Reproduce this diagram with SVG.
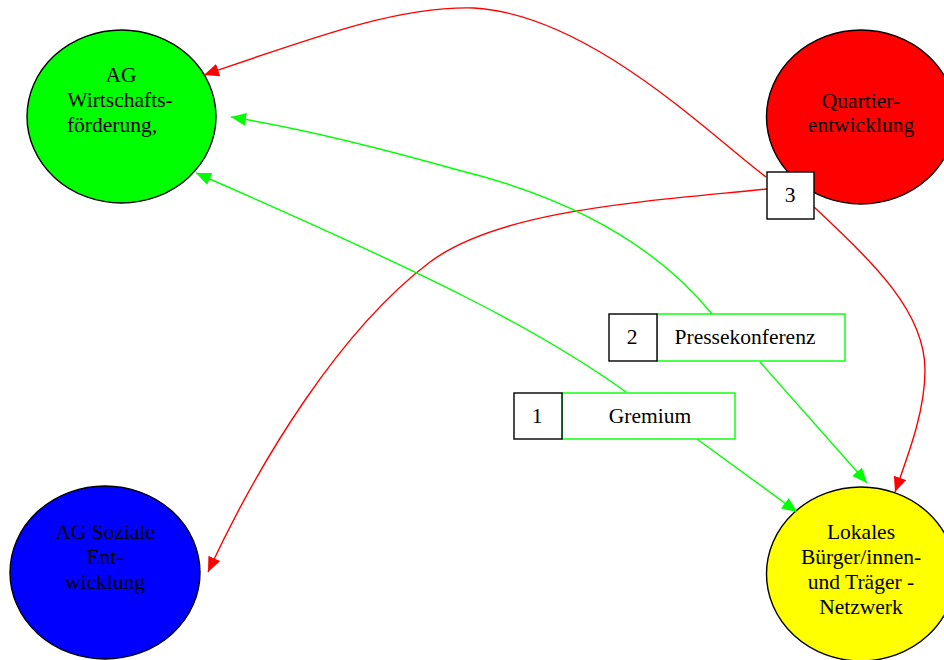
<svg xmlns="http://www.w3.org/2000/svg" width="944" height="660" viewBox="0 0 944 660">
  <style>
    text { font-family: "Liberation Serif", "Times New Roman", serif; font-size: 21.5px; fill: #000; text-anchor: middle; }
    .node ellipse { stroke: #000; stroke-width: 1.4; }
    .edge { fill: none; stroke-width: 1.4; }
    .red { stroke: #ff0000; }
    .green { stroke: #00ff00; }
    .num { fill: #fff; stroke: #000; stroke-width: 1.4; }
    .cell { fill: #fff; stroke: #00ff00; stroke-width: 1.4; }
  </style>
  <defs>
    <marker id="arrow-red" markerUnits="userSpaceOnUse" markerWidth="16" markerHeight="14" refX="15" refY="6.5" orient="auto">
      <path d="M0,0 L15,6.5 L0,13 z" fill="#ff0000"/>
    </marker>
    <marker id="arrow-green" markerUnits="userSpaceOnUse" markerWidth="16" markerHeight="14" refX="15" refY="6.5" orient="auto">
      <path d="M0,0 L15,6.5 L0,13 z" fill="#00ff00"/>
    </marker>
  </defs>

  <rect width="944" height="660" fill="#fff"/>

  <!-- nodes -->
  <g id="ag-wirtschaft" class="node">
    <ellipse cx="121.5" cy="116.5" rx="94.5" ry="86.5" fill="#00ff00"/>
    <text x="121" y="82">AG</text>
    <text x="120" y="107">Wirtschafts-</text>
    <text x="112" y="132">förderung,</text>
  </g>
  <g id="quartier" class="node">
    <ellipse cx="861" cy="117" rx="94.5" ry="87" fill="#ff0000"/>
    <text x="861" y="108">Quartier-</text>
    <text x="861" y="132">entwicklung</text>
  </g>
  <g id="ag-soziale" class="node">
    <ellipse cx="105" cy="572.5" rx="95" ry="86.5" fill="#0000ff"/>
    <text x="105" y="539">AG Soziale</text>
    <text x="105" y="564">Ent-</text>
    <text x="105" y="589">wicklung</text>
  </g>
  <g id="netzwerk" class="node">
    <ellipse cx="861" cy="574" rx="94.5" ry="87" fill="#ffff00"/>
    <text x="861" y="539">Lokales</text>
    <text x="861" y="564">Bürger/innen-</text>
    <text x="861" y="589">und Träger -</text>
    <text x="861" y="614">Netzwerk</text>
  </g>

  <!-- connectors -->
  <g id="connectors">
    <path class="edge red" d="M766,177 C710,135 590,15 474,8 C400,6 320,35 204,75" marker-end="url(#arrow-red)"/>
    <path class="edge red" d="M767,189 C640,202 500,210 430,262 C340,330 260,460 208,572" marker-end="url(#arrow-red)"/>
    <path class="edge red" d="M814,207 C870,260 925,310 925,370 C925,410 910,450 895,492" marker-end="url(#arrow-red)"/>
    <path class="edge green" d="M712,314 C660,250 580,200 458,170 C380,148 300,128 231,117" marker-end="url(#arrow-green)"/>
    <path class="edge green" d="M626,392 C540,330 430,275 196,173" marker-end="url(#arrow-green)"/>
    <path class="edge green" d="M760,362 L867,483" marker-end="url(#arrow-green)"/>
    <path class="edge green" d="M697,439 L797,512" marker-end="url(#arrow-green)"/>
  </g>

  <!-- edge labels -->
  <g id="label-1">
    <rect class="cell" x="562" y="393" width="173" height="46"/>
    <rect class="num" x="514" y="393" width="48" height="46"/>
    <text x="537" y="423">1</text>
    <text x="650" y="423">Gremium</text>
  </g>
  <g id="label-2">
    <rect class="cell" x="657" y="314" width="188" height="47"/>
    <rect class="num" x="609" y="314" width="48" height="47"/>
    <text x="632" y="344">2</text>
    <text x="745" y="344">Pressekonferenz</text>
  </g>
  <g id="label-3">
    <rect class="num" x="767" y="172" width="47" height="47"/>
    <text x="790" y="202">3</text>
  </g>
</svg>
